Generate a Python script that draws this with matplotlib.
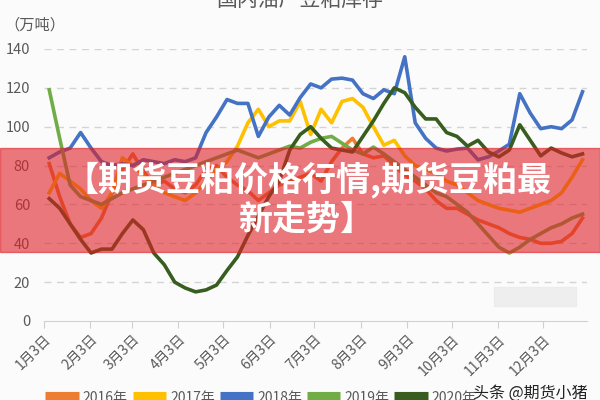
import numpy as np
import matplotlib.pyplot as plt
from matplotlib.patches import Rectangle

plt.rcParams['font.family'] = ['Noto Sans CJK SC', 'DejaVu Sans']

# weekly inventory (万吨), one value per week starting early January
inv_2016 = [81, 64, 50, 43, 45, 53, 66, 78, 86, 77, 70, 72, 68, 66, 70, 78,
            80, 74, 70, 67, 62, 66, 70, 72, 74, 76, 72, 82, 89, 94, 86, 84,
            85, 80, 75, 72, 68, 62, 58, 58, 55, 52, 50, 48, 45, 43, 42, 40,
            40, 41, 45, 53]
inv_2017 = [66, 76, 72, 68, 62, 58, 66, 84, 80, 75, 70, 66, 64, 62, 66, 72,
            78, 82, 90, 102, 109, 100, 103, 103, 113, 96, 109, 102, 113, 114.5, 110, 100,
            90.5, 93, 85, 80, 78, 76, 72, 70, 66, 62, 60, 58, 57, 56, 58, 60,
            62, 66, 74, 83]
inv_2018 = [84, 87, 89, 97, 89, 82, 80, 81, 80, 83, 82, 81, 83, 82, 84, 97,
            105, 114, 112, 112, 95, 105, 111, 106, 115, 122, 120, 124.5, 125, 124, 117, 114.5,
            119, 117, 136, 102, 94, 89, 87.5, 88.5, 89, 83, 84.5, 87.5, 91, 117,
            107, 99, 100, 99, 103.5, 118]
inv_2019 = [119, 94, 70, 64, 62, 60, 63, 66, 68, 70, 72, 74, 76, 78, 80, 82,
            84, 86, 88, 86, 84, 86, 88, 90, 89, 92, 94, 95, 91.5, 88, 86, 89.5,
            86, 82, 78, 74, 70, 66, 64, 60, 56, 50, 44, 38, 35, 38, 42, 45,
            48, 50, 53, 55]
inv_2020 = [63, 58, 50, 42, 35, 37, 37, 45, 52, 47, 35, 29, 20, 17, 15, 16,
            18.5, 26, 33, 44, 54, 64, 72, 88, 96, 100, 94, 89, 88, 87, 95, 103,
            112, 120, 117.5, 110, 104, 104, 97, 95, 90, 93, 87, 84.5, 88, 101,
            93, 85, 89, 86.5, 84.5, 86]

years = ['2016年', '2017年', '2018年', '2019年', '2020年']
colors = ['#ED7D31', '#FFC000', '#4472C4', '#70AD47', '#375E1E']
month_labels = [f'{m}月3日' for m in range(1, 13)]
month_days = [0, 31, 59, 90, 120, 151, 181, 212, 243, 273, 304, 334]

fig = plt.figure(figsize=(6, 4), dpi=100)
fig.patch.set_facecolor('#fcfbfc')
ax = fig.add_axes([44 / 600, 79 / 400, 543 / 600, 272 / 400])
ax.set_facecolor('#fcfbfc')

series = [inv_2016, inv_2017, inv_2018, inv_2019, inv_2020]
for vals, name, c in zip(series, years, colors):
    days = 3.5 + 7 * np.arange(len(vals))
    ax.plot(days, vals, color=c, linewidth=2.6, label=name, solid_joinstyle='round')

ax.set_xlim(0, 363.5)
ax.set_ylim(0, 140)
ax.set_yticks(range(0, 141, 20))
ax.set_xticks(month_days)
ax.set_xticklabels(month_labels, rotation=45, ha='right', va='top',
                   rotation_mode='anchor')
ax.tick_params(axis='x', length=5, color='#d0d0d0', labelsize=10,
               labelcolor='#595959', pad=3)
ax.tick_params(axis='y', length=0, labelsize=10.5, labelcolor='#595959', pad=10)
for y in range(20, 141, 20):
    ax.axhline(y, color='#d4d4d4', linewidth=1, linestyle=(0, (5, 4)), zorder=0)
for side in ['top', 'right', 'left']:
    ax.spines[side].set_visible(False)
ax.spines['bottom'].set_color('#d0d0d0')

fig.text(300 / 600, 1.0, '国内油厂豆粕库存', ha='center', va='center',
         fontsize=15, color='#595959')
fig.text(4 / 600, 1 - 25 / 400, '（万吨）', ha='left', va='center',
         fontsize=11, color='#595959')

leg = fig.legend(loc='center', bbox_to_anchor=(0.435, 0.005), ncol=5, frameon=False,
                 fontsize=10, handlelength=2.4, handleheight=0.7,
                 columnspacing=0.35, handletextpad=0.3, labelcolor='#595959')
for h in leg.legend_handles:
    h.set_linewidth(8)
    h.set_solid_capstyle('butt')

# blurred watermark patch and caption
fig.patches.append(Rectangle((494 / 600, 1 - 306 / 400), 82 / 600, 19 / 400,
                             transform=fig.transFigure, color='#ecebec', alpha=0.8))
fig.text(588 / 600, 1 - 393 / 400, '头条 @期货小猪', ha='right', va='center',
         fontsize=11.5, color='#222222')

# red banner with headline
fig.patches.append(Rectangle((0, 1 - 252 / 400), 1, 104 / 400,
                             transform=fig.transFigure, color='#de1f26', alpha=0.6,
                             zorder=5))
fig.text(308 / 600, 1 - 180 / 400, '【期货豆粕价格行情,期货豆粕最', ha='center',
         va='center', fontsize=24.5, fontweight='heavy', color='white', zorder=6)
fig.text(306 / 600, 1 - 219 / 400, '新走势】', ha='center', va='center',
         fontsize=24.5, fontweight='heavy', color='white', zorder=6)

fig.savefig('out.png', dpi=100, facecolor=fig.get_facecolor())
